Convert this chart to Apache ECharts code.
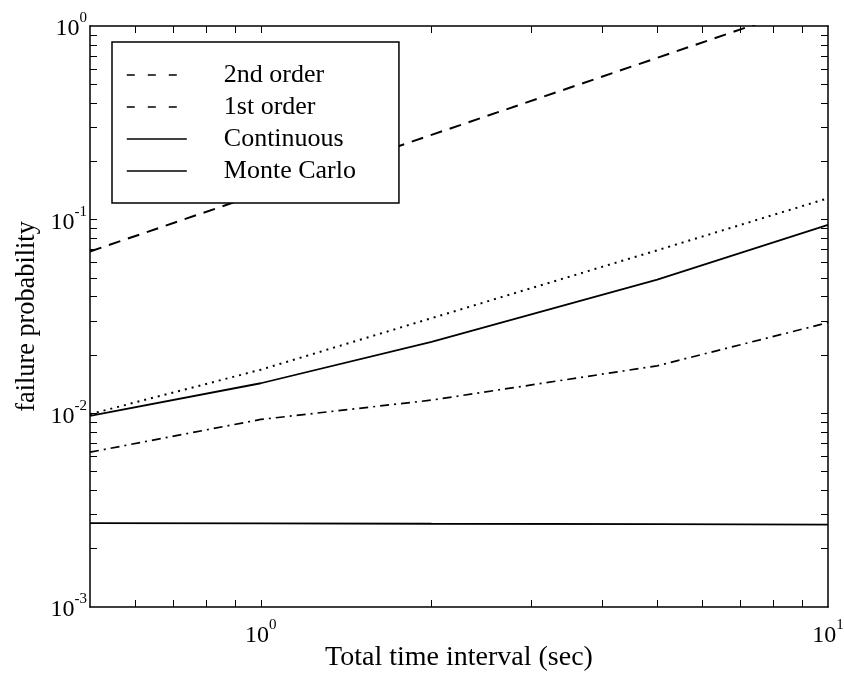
<!DOCTYPE html>
<html>
<head>
<meta charset="utf-8">
<script src="https://cdn.jsdelivr.net/npm/echarts@6/dist/echarts.min.js"></script>
<style>
  html, body { margin: 0; padding: 0; background: #fff; }
  #chart { width: 844px; height: 677px; }
</style>
</head>
<body>
<div id="chart"></div>
<script>
// time values (sec) where the curves were sampled
const timeInterval = [0.5, 1, 2, 5, 10];

// failure probability curves
const secondOrder = [0.0685, 0.137, 0.274, 0.685, 1.37];
const firstOrder = [0.0099, 0.0168, 0.031, 0.0695, 0.129];
const continuous = [0.0097, 0.0143, 0.0234, 0.049, 0.094];
const dashDot = [0.0063, 0.0093, 0.0117, 0.0176, 0.0294];
const monteCarlo = [0.00271, 0.0027, 0.00269, 0.00268, 0.00266];

// log-axis tick positions (minor + major)
const xTicks = [0.6, 0.7, 0.8, 0.9, 1, 2, 3, 4, 5, 6, 7, 8, 9];
const yTicks = [0.002, 0.003, 0.004, 0.005, 0.006, 0.007, 0.008, 0.009, 0.01,
  0.02, 0.03, 0.04, 0.05, 0.06, 0.07, 0.08, 0.09, 0.1,
  0.2, 0.3, 0.4, 0.5, 0.6, 0.7, 0.8, 0.9];

const legendNames = ['2nd order', '1st order', 'Continuous', 'Monte Carlo'];

const serif = "'Liberation Serif', 'Times New Roman', serif";

const pairs = (ys) => timeInterval.map((x, i) => [x, ys[i]]);

const powLabel = (value) => {
  const e = Math.round(Math.log10(value));
  if (Math.abs(Math.log10(value) - e) > 1e-6) return '';
  return '{b|10}{s|' + e + '}';
};

const labelRich = {
  b: { fontFamily: serif, fontSize: 24, color: '#000', lineHeight: 30, verticalAlign: 'bottom' },
  s: { fontFamily: serif, fontSize: 15, color: '#000', lineHeight: 13, verticalAlign: 'top' }
};

const axisLine = { show: true, lineStyle: { color: '#000', width: 1.5 } };
const tickStyle = { color: '#000', width: 1 };
const hiddenIcon = { color: 'rgba(0,0,0,0)', borderWidth: 0, opacity: 0 };

const chart = echarts.init(document.getElementById('chart'));

const option = {
  animation: false,
  backgroundColor: '#fff',
  grid: { left: 90, right: 16, top: 26, bottom: 70, outerBoundsMode: 'none' },
  legend: {
    orient: 'vertical',
    left: 112,
    top: 42,
    padding: [20, 43, 19, 14],
    itemWidth: 60,
    itemHeight: 14,
    itemGap: 6,
    backgroundColor: '#fff',
    borderColor: '#000',
    borderWidth: 1.5,
    borderRadius: 0,
    textStyle: { fontFamily: serif, fontSize: 26, color: '#000', lineHeight: 26, padding: [0, 0, 0, 32] },
    data: [
      { name: legendNames[0], itemStyle: hiddenIcon, lineStyle: { color: '#000', type: [8, 13], width: 1.6 } },
      { name: legendNames[1], itemStyle: hiddenIcon, lineStyle: { color: '#000', type: [8, 13], width: 1.3 } },
      { name: legendNames[2], itemStyle: hiddenIcon, lineStyle: { color: '#000', type: 'solid', width: 1.6 } },
      { name: legendNames[3], itemStyle: hiddenIcon, lineStyle: { color: '#000', type: 'solid', width: 1.6 } }
    ]
  },
  xAxis: [
    {
      type: 'log',
      min: 0.5,
      max: 10,
      name: 'Total time interval (sec)',
      nameLocation: 'middle',
      nameGap: 37,
      nameMoveOverlap: false,
      nameTextStyle: { fontFamily: serif, fontSize: 28, color: '#000' },
      axisLine: axisLine,
      axisTick: { show: true, inside: true, length: 7, customValues: xTicks, lineStyle: tickStyle },
      axisLabel: { margin: 11, formatter: powLabel, rich: labelRich },
      splitLine: { show: false },
      minorTick: { show: false }
    },
    {
      type: 'log',
      min: 0.5,
      max: 10,
      position: 'top',
      axisLine: axisLine,
      axisTick: { show: true, inside: true, length: 7, customValues: xTicks, lineStyle: tickStyle },
      axisLabel: { show: false },
      splitLine: { show: false }
    }
  ],
  yAxis: [
    {
      type: 'log',
      min: 0.001,
      max: 1,
      name: 'failure probability',
      nameLocation: 'middle',
      nameGap: 50,
      nameMoveOverlap: false,
      nameTextStyle: { fontFamily: serif, fontSize: 26.3, color: '#000' },
      axisLine: axisLine,
      axisTick: { show: true, inside: true, length: 7, customValues: yTicks, lineStyle: tickStyle },
      axisLabel: { margin: 3, formatter: powLabel, rich: labelRich },
      splitLine: { show: false }
    },
    {
      type: 'log',
      min: 0.001,
      max: 1,
      position: 'right',
      axisLine: axisLine,
      axisTick: { show: true, inside: true, length: 7, customValues: yTicks, lineStyle: tickStyle },
      axisLabel: { show: false },
      splitLine: { show: false }
    }
  ],
  series: [
    {
      name: legendNames[0],
      type: 'line',
      data: pairs(secondOrder),
      symbol: 'none',
      clip: true,
      lineStyle: { color: '#000', width: 2, type: [12, 8] },
      itemStyle: { color: '#000' }
    },
    {
      name: legendNames[1],
      type: 'line',
      data: pairs(firstOrder),
      symbol: 'none',
      lineStyle: { color: '#000', width: 2, type: [2, 5] },
      itemStyle: { color: '#000' }
    },
    {
      name: legendNames[2],
      type: 'line',
      data: pairs(continuous),
      symbol: 'none',
      lineStyle: { color: '#000', width: 1.8, type: 'solid' },
      itemStyle: { color: '#000' }
    },
    {
      name: 'dash-dot',
      type: 'line',
      data: pairs(dashDot),
      symbol: 'none',
      lineStyle: { color: '#000', width: 1.7, type: [9, 5, 2, 5] },
      itemStyle: { color: '#000' }
    },
    {
      name: legendNames[3],
      type: 'line',
      data: pairs(monteCarlo),
      symbol: 'none',
      lineStyle: { color: '#000', width: 1.8, type: 'solid' },
      itemStyle: { color: '#000' }
    }
  ]
};

chart.setOption(option);
</script>
</body>
</html>
